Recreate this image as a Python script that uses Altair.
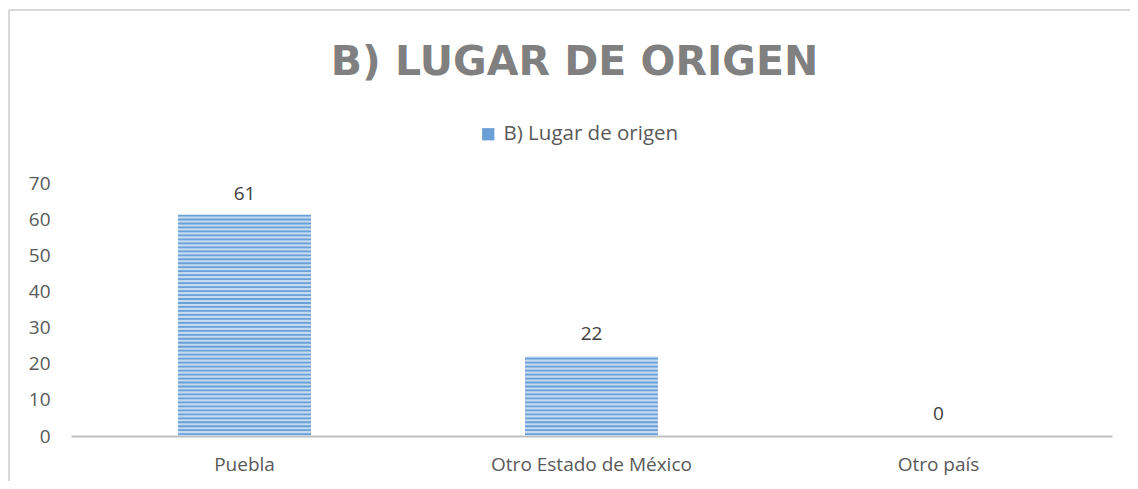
import altair as alt
import numpy as np
import pandas as pd

categories = ["Puebla", "Otro Estado de México", "Otro país"]
values = [61, 22, 0]
series_name = "B) Lugar de origen"
title_text = "B) LUGAR DE ORIGEN"
y_ticks = [0, 10, 20, 30, 40, 50, 60, 70]

df = pd.DataFrame({"cat": categories, "val": values, "serie": series_name})

# decorative horizontal stripes inside each bar (pattern fill)
rows = []
for c, v in zip(categories, values):
    for s in np.arange(0.25, v - 0.2, 1.1):
        rows.append({"cat": c, "s": float(s), "s2": float(s) + 0.5, "serie": series_name})
stripes = pd.DataFrame(rows)

W, H = 1041, 253
FONT = "Open Sans"
xscale = alt.Scale(domain=categories, paddingInner=0.617, paddingOuter=0.3085)
yscale = alt.Scale(domain=[0, 70], nice=False)

x_axis = alt.Axis(labelAngle=0, ticks=False, tickSize=0, domainColor="#bfbfbf",
                  domainWidth=2, labelFont=FONT, labelFontSize=19, labelLimit=0,
                  labelColor="#595959", labelPadding=19, grid=False)
y_axis = alt.Axis(values=y_ticks, ticks=False, tickSize=0, domain=False, grid=False,
                  labelOverlap=False, labelFont=FONT, labelFontSize=19,
                  labelColor="#595959", labelPadding=21)

bars = alt.Chart(df).mark_bar(opacity=1, color="#c3daf1").encode(
    x=alt.X("cat:N", scale=xscale, sort=categories, title=None, axis=x_axis),
    y=alt.Y("val:Q", scale=yscale, title=None, axis=y_axis),
)

stripe_layer = alt.Chart(stripes).mark_bar().encode(
    x=alt.X("cat:N", scale=xscale, sort=categories, title=None, axis=x_axis),
    y=alt.Y("s:Q", scale=yscale, title=None, axis=y_axis),
    y2="s2:Q",
    color=alt.Color("serie:N", scale=alt.Scale(domain=[series_name], range=["#6a9fd8"]),
                    legend=alt.Legend(title=None, orient="none", legendX=407, legendY=-59,
                                      symbolType="square", symbolSize=150,
                                      symbolStrokeWidth=0,
                                      labelFont=FONT, labelFontSize=20.5, labelColor="#595959",
                                      labelOffset=5, labelLimit=0)),
)

labels = alt.Chart(df).mark_text(baseline="alphabetic", dy=-16, font=FONT, fontSize=19,
                                 color="#404040").encode(
    x=alt.X("cat:N", scale=xscale, sort=categories, title=None, axis=x_axis),
    y=alt.Y("val:Q", scale=yscale, title=None, axis=y_axis),
    text="val:Q",
)

border_left = alt.Chart(df).mark_rule(color="#d9d9d9", strokeWidth=1.5).encode(
    x=alt.value(-62), y=alt.value(-173), y2=alt.value(H + 60))
border_top = alt.Chart(df).mark_rule(color="#d9d9d9", strokeWidth=1.5).encode(
    x=alt.value(-62), x2=alt.value(W + 40), y=alt.value(-173))

chart = alt.layer(border_left, border_top, bars, stripe_layer, labels).properties(
    width=W, height=H,
    title=alt.TitleParams(title_text, font="DejaVu Sans", fontSize=41, fontWeight="bold",
                          color="#808080", anchor="middle", frame="group",
                          offset=-107, dx=-17, baseline="alphabetic"),
    autosize=alt.AutoSizeParams(type="none"),
    padding={"left": 63, "top": 175, "right": 18, "bottom": 45},
).configure_view(stroke=None).configure_title(limit=0)

chart.save("out.html", embed_options={"renderer": "svg", "actions": False})
